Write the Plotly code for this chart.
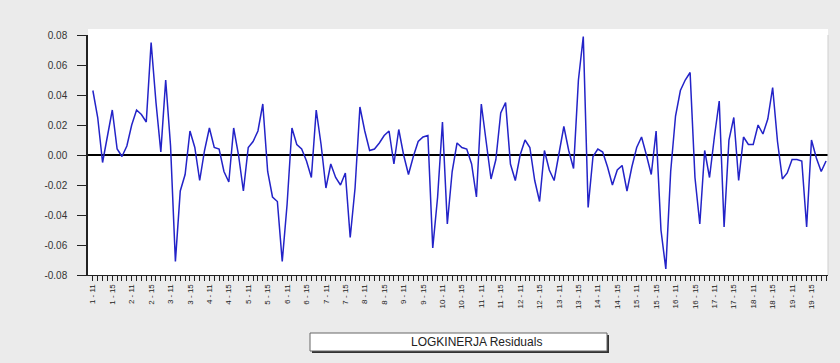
import plotly.graph_objects as go

# Panel residuals (cross-section - period)
residuals = [
    0.043, 0.025, -0.005, 0.012, 0.030, 0.004, -0.001, 0.006, 0.020, 0.030,
    0.027, 0.022, 0.075, 0.035, 0.002, 0.050, 0.006, -0.071, -0.024, -0.013,
    0.016, 0.005, -0.017, 0.003, 0.018, 0.005, 0.004, -0.011, -0.018, 0.018,
    0.000, -0.024, 0.005, 0.009, 0.016, 0.034, -0.011, -0.028, -0.031, -0.071,
    -0.033, 0.018, 0.007, 0.004, -0.004, -0.015, 0.030, 0.007, -0.022, -0.006,
    -0.015, -0.020, -0.012, -0.055, -0.022, 0.032, 0.016, 0.003, 0.004, 0.008,
    0.013, 0.016, -0.006, 0.017, 0.000, -0.013, -0.001, 0.009, 0.012, 0.013,
    -0.062, -0.028, 0.022, -0.046, -0.011, 0.008, 0.005, 0.004, -0.006, -0.028,
    0.034, 0.009, -0.016, -0.003, 0.028, 0.035, -0.006, -0.017, 0.000, 0.010,
    0.005, -0.017, -0.031, 0.003, -0.010, -0.017, 0.000, 0.019, 0.003, -0.009,
    0.050, 0.079, -0.035, -0.001, 0.004, 0.002, -0.008, -0.020, -0.010, -0.007,
    -0.024, -0.008, 0.005, 0.012, 0.000, -0.013, 0.016, -0.050, -0.076, -0.011,
    0.026, 0.043, 0.050, 0.055, -0.015, -0.046, 0.003, -0.015, 0.012, 0.036,
    -0.048, 0.010, 0.025, -0.017, 0.012, 0.007, 0.007, 0.020, 0.014, 0.024,
    0.045, 0.009, -0.016, -0.012, -0.003, -0.003, -0.004, -0.048, 0.010, -0.002,
    -0.011, -0.004,
]
cross_sections = list(range(1, 20))
periods = ["11", "12", "13", "14", "15", "16", "17", "18"]
obs_labels = [f"{c} - {p}" for c in cross_sections for p in periods][:len(residuals)]
label_step = 4

y_tickvals = [0.08, 0.06, 0.04, 0.02, 0.00, -0.02, -0.04, -0.06, -0.08]
y_ticktext = ["0.08", "0.06", "0.04", "0.02", "0.00", "-0.02", "-0.04", "-0.06", "-0.08"]
legend_text = "LOGKINERJA Residuals"

x_idx = list(range(len(residuals)))
x_ticktext = [lab if i % label_step == 0 else "" for i, lab in enumerate(obs_labels)]

# plot-area geometry in pixels
L, R, T, B = 88, 828, 35, 275
W, H = R - L, B - T


def px(x):
    return (x - L) / W


def py(y):
    return (B - y) / H


fig = go.Figure()
fig.add_trace(go.Scatter(
    x=x_idx, y=residuals, mode="lines",
    line=dict(color="#2323c8", width=1.5),
    name=legend_text, showlegend=False,
))

fig.update_layout(
    width=840, height=363,
    margin=dict(l=L, r=840 - R, t=T, b=363 - B),
    paper_bgcolor="#ebebeb",
    plot_bgcolor="#ffffff",
    font=dict(family="Liberation Sans, Arial, sans-serif", color="#333333"),
    xaxis=dict(
        range=[-1.0, len(residuals) - 0.6],
        tickmode="array", tickvals=x_idx, ticktext=x_ticktext,
        tickangle=-90, tickfont=dict(size=8, color="#222222"),
        ticks="outside", ticklen=5, tickwidth=1, tickcolor="#222222",
        showgrid=False, zeroline=False,
        showline=True, linecolor="#222222", linewidth=1,
    ),
    yaxis=dict(
        range=[-0.08, 0.08],
        tickmode="array", tickvals=y_tickvals, ticktext=y_ticktext,
        tickfont=dict(size=10, color="#333333"),
        ticks="outside", ticklen=9, tickwidth=1, tickcolor="#222222",
        ticklabelstandoff=8,
        showgrid=False,
        zeroline=True, zerolinecolor="#000000", zerolinewidth=1.5,
        showline=True, linecolor="#222222", linewidth=1.5,
    ),
    shapes=[
        # white strip just above the plot top
        dict(type="rect", xref="paper", yref="paper", x0=0, x1=1,
             y0=1, y1=py(T - 6), fillcolor="#ffffff", line=dict(width=0),
             layer="below"),
        # right frame edge of plot
        dict(type="line", xref="paper", yref="paper", x0=1, x1=1, y0=0, y1=1,
             line=dict(color="#cfcfcf", width=1)),
        # legend box shadow
        dict(type="rect", xref="paper", yref="paper",
             x0=px(312), x1=px(609), y0=py(353), y1=py(335),
             fillcolor="#333333", line=dict(width=0), layer="above"),
        # legend box
        dict(type="rect", xref="paper", yref="paper",
             x0=px(310), x1=px(607), y0=py(351), y1=py(333),
             fillcolor="#ffffff", line=dict(color="#666666", width=1), layer="above"),
    ],
    annotations=[
        dict(text=legend_text, xref="paper", yref="paper",
             x=px(476), y=py(342),
             xanchor="center", yanchor="middle", showarrow=False,
             font=dict(size=12, color="#222222")),
    ],
)

fig.write_html("out.html", config={"displayModeBar": False})

# remove the default page margin so the figure sits at the window's top-left
with open("out.html", "r", encoding="utf-8") as f:
    html = f.read()
html = html.replace("<head>", "<head><style>html,body{margin:0;padding:0;overflow:hidden;}</style>", 1)
with open("out.html", "w", encoding="utf-8") as f:
    f.write(html)
